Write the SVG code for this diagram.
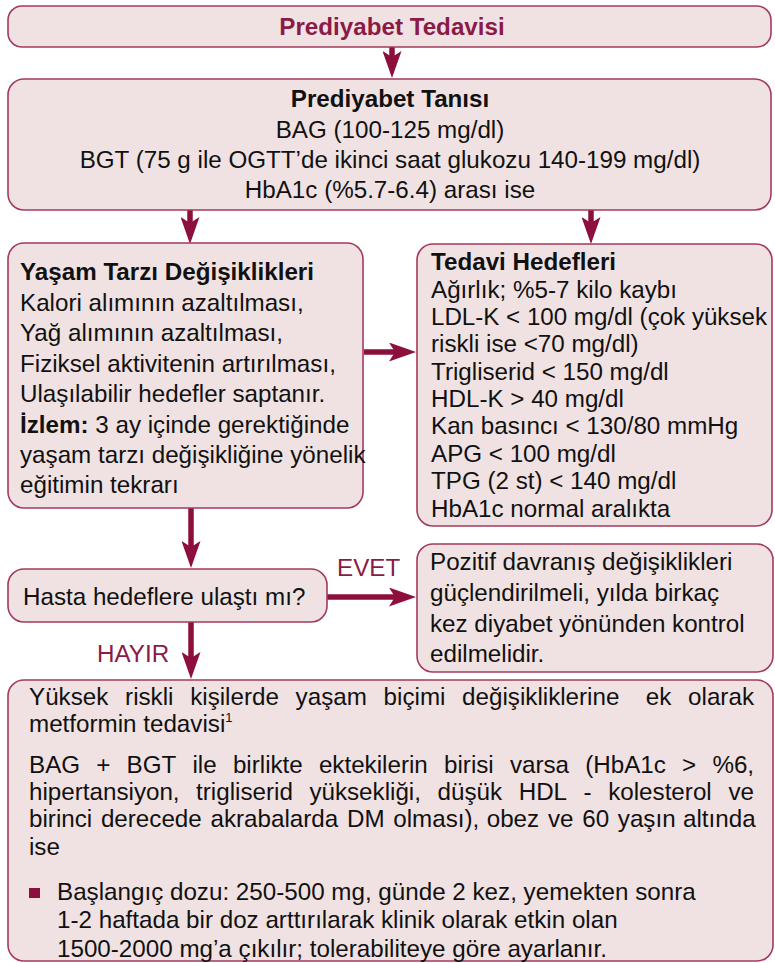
<svg xmlns="http://www.w3.org/2000/svg" width="775" height="963" viewBox="0 0 775 963">
<defs>
<marker id="ah" viewBox="0 0 27 19" refX="11" refY="9.5" markerWidth="27" markerHeight="19" markerUnits="userSpaceOnUse" orient="auto">
<path d="M0,0 L27,9.5 L0,19 L6,9.5 Z" fill="#8c0f3d"/>
</marker>
<style>
.box{fill:#f0e2e2;stroke:#a33a5e;stroke-width:1.6}
.t{font-family:"Liberation Sans",Arial,Helvetica,sans-serif;font-size:24.2px;fill:#111}
.b{font-weight:bold}
.c{text-anchor:middle}
.red{fill:#8c1a46}
.arr{stroke:#8c0f3d;stroke-width:5.5;fill:none;marker-end:url(#ah)}
</style>
</defs>
<rect width="775" height="963" fill="#ffffff"/>

<g id="connectors">
<line class="arr" x1="392" y1="47" x2="392" y2="62"/>
<line class="arr" x1="190" y1="210" x2="190" y2="228"/>
<line class="arr" x1="591" y1="210" x2="591" y2="228"/>
<line class="arr" x1="364" y1="352" x2="400" y2="352"/>
<line class="arr" x1="191" y1="508" x2="191" y2="552"/>
<line class="arr" x1="327" y1="597" x2="400" y2="597"/>
<line class="arr" x1="191" y1="622" x2="191" y2="663"/>
<text class="t red" x="337" y="576">EVET</text>
<text class="t red" x="97" y="662">HAYIR</text>
</g>

<g id="n-title">
<rect class="box" x="8" y="6" width="763" height="41" rx="14"/>
<text class="t b c red" x="392" y="35">Prediyabet Tedavisi</text>
</g>

<g id="n-tani">
<rect class="box" x="8" y="79" width="763" height="131" rx="16"/>
<text class="t c" x="390" y="107"><tspan class="b">Prediyabet Tanısı</tspan></text>
<text class="t c" x="390" y="138">BAG (100-125 mg/dl)</text>
<text class="t c" x="390" y="168">BGT (75 g ile OGTT’de ikinci saat glukozu 140-199 mg/dl)</text>
<text class="t c" x="390" y="198">HbA1c (%5.7-6.4) arası ise</text>
</g>

<g id="n-yasam">
<rect class="box" x="8" y="243" width="355" height="265" rx="16"/>
<text class="t b" x="20" y="280">Yaşam Tarzı Değişiklikleri</text>
<text class="t" x="20" y="311">Kalori alımının azaltılması,</text>
<text class="t" x="20" y="341">Yağ alımının azaltılması,</text>
<text class="t" x="20" y="372">Fiziksel aktivitenin artırılması,</text>
<text class="t" x="20" y="402">Ulaşılabilir hedefler saptanır.</text>
<text class="t" x="20" y="433"><tspan class="b">İzlem:</tspan> 3 ay içinde gerektiğinde</text>
<text class="t" x="20" y="463">yaşam tarzı değişikliğine yönelik</text>
<text class="t" x="20" y="493">eğitimin tekrarı</text>
</g>

<g id="n-hedef">
<rect class="box" x="417" y="244" width="355" height="282" rx="16"/>
<text class="t b" x="431" y="270">Tedavi Hedefleri</text>
<text class="t" x="431" y="298">Ağırlık; %5-7 kilo kaybı</text>
<text class="t" x="431" y="325" textLength="336" lengthAdjust="spacingAndGlyphs">LDL-K &lt; 100 mg/dl (çok yüksek</text>
<text class="t" x="431" y="352">riskli ise &lt;70 mg/dl)</text>
<text class="t" x="431" y="380">Trigliserid &lt; 150 mg/dl</text>
<text class="t" x="431" y="407">HDL-K &gt; 40 mg/dl</text>
<text class="t" x="431" y="434">Kan basıncı &lt; 130/80 mmHg</text>
<text class="t" x="431" y="462">APG &lt; 100 mg/dl</text>
<text class="t" x="431" y="489">TPG (2 st) &lt; 140 mg/dl</text>
<text class="t" x="431" y="517">HbA1c normal aralıkta</text>
</g>

<g id="n-karar">
<rect class="box" x="8" y="569" width="319" height="53" rx="16"/>
<text class="t" x="23" y="605">Hasta hedeflere ulaştı mı?</text>
</g>

<g id="n-evet">
<rect class="box" x="417" y="544" width="356" height="128" rx="16"/>
<text class="t" x="430" y="570">Pozitif davranış değişiklikleri</text>
<text class="t" x="430" y="601">güçlendirilmeli, yılda birkaç</text>
<text class="t" x="430" y="632">kez diyabet yönünden kontrol</text>
<text class="t" x="430" y="662">edilmelidir.</text>
</g>

<g id="n-hayir">
<rect class="box" x="8" y="680" width="765" height="281" rx="16"/>
<text class="t" y="705"><tspan x="29">Yüksek</tspan><tspan x="125.1">riskli</tspan><tspan x="190.2">kişilerde</tspan><tspan x="295.6">yaşam</tspan><tspan x="383.6">biçimi</tspan><tspan x="462.1">değişikliklerine</tspan><tspan x="645.8">ek</tspan><tspan x="688.1">olarak</tspan></text>
<text class="t" x="29" y="732">metformin tedavisi<tspan font-size="13" dy="-10">1</tspan></text>
<text class="t" y="773"><tspan x="29">BAG</tspan><tspan x="96.3">+</tspan><tspan x="126.6">BGT</tspan><tspan x="192.5">ile</tspan><tspan x="232.9">birlikte</tspan><tspan x="318.9">ektekilerin</tspan><tspan x="444">birisi</tspan><tspan x="509.9">varsa</tspan><tspan x="585.2">(HbA1c</tspan><tspan x="682.1">&gt;</tspan><tspan x="712.4">%6,</tspan></text>
<text class="t" y="800"><tspan x="29">hipertansiyon,</tspan><tspan x="196.1">trigliserid</tspan><tspan x="309.4">yüksekliği,</tspan><tspan x="437.6">düşük</tspan><tspan x="518.7">HDL</tspan><tspan x="583.6">-</tspan><tspan x="608.2">kolesterol</tspan><tspan x="728.4">ve</tspan></text>
<text class="t" y="827"><tspan x="29">birinci</tspan><tspan x="100.9">derecede</tspan><tspan x="210.5">akrabalarda</tspan><tspan x="347">DM</tspan><tspan x="393.3">olması),</tspan><tspan x="486.7">obez</tspan><tspan x="547.9">ve</tspan><tspan x="582.2">60</tspan><tspan x="617.8">yaşın</tspan><tspan x="683">altında</tspan></text>
<text class="t" x="29" y="855">ise</text>
<rect x="29" y="888" width="11" height="10" fill="#8c0f3d"/>
<text class="t" x="57" y="900">Başlangıç dozu: 250-500 mg, günde 2 kez, yemekten sonra</text>
<text class="t" x="57" y="928">1-2 haftada bir doz arttırılarak klinik olarak etkin olan</text>
<text class="t" x="57" y="957">1500-2000 mg’a çıkılır; tolerabiliteye göre ayarlanır.</text>
</g>
</svg>
